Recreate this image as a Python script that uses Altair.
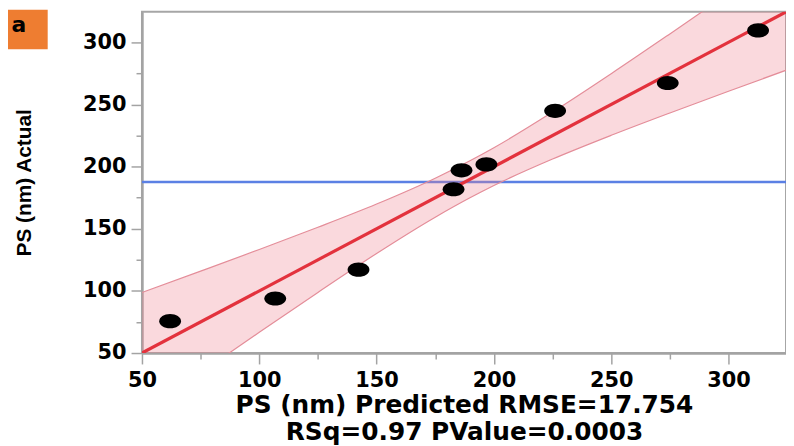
import altair as alt
import pandas as pd

# ---- data ----
pred = [62.0, 106.8, 142.3, 182.8, 186.2, 196.8, 226.1, 274.1, 312.6]
actual = [75.6, 93.9, 117.1, 181.8, 197.0, 201.8, 244.9, 267.3, 309.6]
mean_actual = [187.6]
fit_x = [50, 325]
fit_y = [50, 325]
band_x = [50, 75, 100, 125, 150, 175, 190, 200, 225, 250, 275, 300, 325]
band_lo = [1.3, 34.1, 66.7, 98.8, 130.1, 159.3, 175.1, 184.8, 206.1, 225.2, 243.2, 260.7, 277.9]
band_hi = [98.7, 115.9, 133.3, 151.2, 169.9, 190.7, 204.9, 215.2, 243.9, 274.8, 306.8, 339.3, 372.1]
tick_values = [50, 75, 100, 125, 150, 175, 200, 225, 250, 275, 300]
x_title = ["PS (nm) Predicted RMSE=17.754", "RSq=0.97 PValue=0.0003"]
y_title = "PS (nm) Actual"
panel_label = ["a"]

W, H = 649, 344

pts = pd.DataFrame({"pred": pred, "actual": actual})
fit = pd.DataFrame({"x": fit_x, "y": fit_y})
band = pd.DataFrame({"x": band_x, "lo": band_lo, "hi": band_hi})
mean_df = pd.DataFrame({"m": mean_actual})
lab_df = pd.DataFrame({"label": panel_label})

xs = alt.Scale(domain=[50, 324.5], nice=False, zero=False)
ys = alt.Scale(domain=[50, 324.7], nice=False, zero=False)

major_test = "datum.value % 50 === 0"
common_axis = dict(
    values=tick_values,
    labelExpr=f"{major_test} ? datum.label : ''",
    tickSize={"condition": {"test": major_test, "value": 11}, "value": 6},
    grid=False,
    labelFont="DejaVu Sans",
    labelFontWeight="bold",
    labelFontSize=21,
    labelColor="black",
    labelFlush=False,
    labelOverlap=False,
    domainColor="#a3a3a3",
    domainWidth=2.5,
    tickColor="#a3a3a3",
    tickWidth=1.5,
)

x_axis = alt.Axis(
    title=x_title,
    titleFont="DejaVu Sans",
    titleFontWeight="bold",
    titleFontSize=25,
    titleColor="black",
    titleX=W / 2,
    titleY=60,
    titleAlign="center",
    titleBaseline="alphabetic",
    titleLineHeight=27,
    labelPadding=6,
    **common_axis,
)
y_axis = alt.Axis(
    title=y_title,
    titleFont="Liberation Sans",
    titleFontWeight="bold",
    titleFontSize=21,
    titleColor="black",
    titleAngle=270,
    titleX=-112,
    titleY=172,
    titleAlign="center",
    titleBaseline="alphabetic",
    labelPadding=5,
    **common_axis,
)

X = lambda f: alt.X(f, type="quantitative", scale=xs, axis=x_axis)
Y = lambda f: alt.Y(f, type="quantitative", scale=ys, axis=y_axis)

mean_rule = alt.Chart(mean_df).mark_rule(color="#5b80e4", strokeWidth=2.5).encode(y=Y("m"))

band_area = alt.Chart(band).mark_area(
    color="#f0808f", opacity=0.3, interpolate="monotone", clip=True
).encode(x=X("x"), y=Y("lo"), y2="hi")

band_lo_line = alt.Chart(band).mark_line(
    color="#e48d99", strokeWidth=1.2, interpolate="monotone", clip=True
).encode(x=X("x"), y=Y("lo"))
band_hi_line = alt.Chart(band).mark_line(
    color="#e48d99", strokeWidth=1.2, interpolate="monotone", clip=True
).encode(x=X("x"), y=Y("hi"))

fit_line = alt.Chart(fit).mark_line(color="#e3323d", strokeWidth=3.2, clip=True).encode(
    x=X("x"), y=Y("y")
)

ellipse = "M-1,0C-1,-0.359,-0.552,-0.65,0,-0.65C0.552,-0.65,1,-0.359,1,0C1,0.359,0.552,0.65,0,0.65C-0.552,0.65,-1,0.359,-1,0Z"
points = alt.Chart(pts).mark_point(
    shape=ellipse, filled=True, size=484, color="black", opacity=1
).encode(x=X("pred"), y=Y("actual"))

box = alt.Chart(lab_df).mark_rect(color="#ee7d31").encode(
    x=alt.value(-135), x2=alt.value(-95), y=alt.value(-2), y2=alt.value(38)
)
box_text = alt.Chart(lab_df).mark_text(
    font="DejaVu Sans", fontSize=22, fontWeight="bold", color="black",
    align="center", baseline="alphabetic"
).encode(x=alt.value(-124), y=alt.value(20), text="label:N")

chart = (
    alt.layer(mean_rule, band_area, band_lo_line, band_hi_line, fit_line, points, box, box_text)
    .properties(
        width=W,
        height=H,
        padding={"left": 135, "top": 2, "right": 0, "bottom": 92},
        autosize=alt.AutoSizeParams(type="none"),
        background="white",
    )
    .configure_view(stroke="#a6a6a6", strokeWidth=2)
)

chart.save("out.html", embed_options={"renderer": "svg", "actions": False})
